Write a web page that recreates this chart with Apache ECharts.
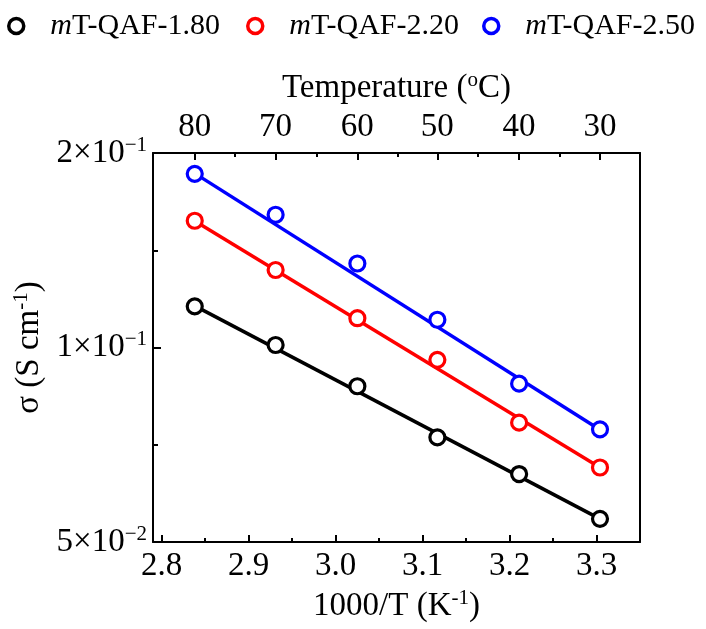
<!DOCTYPE html>
<html>
<head>
<meta charset="utf-8">
<script src="https://cdn.jsdelivr.net/npm/echarts@6/dist/echarts.min.js"></script>
<style>
html, body { margin: 0; padding: 0; background: #fff; }
#chart { width: 706px; height: 629px; }
</style>
</head>
<body>
<div id="chart"></div>
<script>
// 1000/T of the six measurements, 80 -> 30 oC
var invT = [2.838, 2.931, 3.025, 3.117, 3.211, 3.304];
var tempLabels = ['80', '70', '60', '50', '40', '30'];

var names = ['mT-QAF-1.80', 'mT-QAF-2.20', 'mT-QAF-2.50'];
var colors = ['#000000', '#ff0000', '#0000ff'];

// conductivity (S cm-1)
var sig180 = [0.1158, 0.1009, 0.0871, 0.0726, 0.0637, 0.0543];
var sig220 = [0.1571, 0.1318, 0.1110, 0.0957, 0.0765, 0.0652];
var sig250 = [0.1857, 0.1605, 0.1349, 0.1104, 0.0879, 0.0747];

// linear fits, value at first and last point
var fit180 = [0.1160, 0.0543];
var fit220 = [0.1570, 0.0652];
var fit250 = [0.1860, 0.0746];

// tick labels / positions
var xTicks = [2.8, 2.9, 3.0, 3.1, 3.2, 3.3];
var xMinorTicks = [2.85, 2.95, 3.05, 3.15, 3.25, 3.35];
var yTicks = [0.05, 0.1, 0.2];
var yTickText = ['{m|5×10}{s|−2}', '{m|1×10}{s|−1}', '{m|2×10}{s|−1}'];
var yMinorTicks = [0.0707, 0.1414];

var font = 'Liberation Serif';
var sigs = [sig180, sig220, sig250];
var fits = [fit180, fit220, fit250];

var tempMinor = [];
for (var i = 1; i < invT.length; i++) tempMinor.push((invT[i] + invT[i - 1]) / 2);

function nearest(arr, v, logScale) {
    var best = 0, d = Infinity;
    for (var i = 0; i < arr.length; i++) {
        var dd = logScale ? Math.abs(Math.log(arr[i] / v)) : Math.abs(arr[i] - v);
        if (dd < d) { d = dd; best = i; }
    }
    return best;
}

var blackLine = { show: true, lineStyle: { color: '#000', width: 2 } };
var noLine = { show: false };
var richSup = {
    m: { fontFamily: font, fontSize: 33, color: '#000', lineHeight: 37 },
    s: { fontFamily: font, fontSize: 21, color: '#000', verticalAlign: 'top', lineHeight: 21 }
};

function xAx(pos, extra) {
    return Object.assign({
        type: 'value', position: pos, min: 2.79, max: 3.35,
        splitLine: { show: false },
        axisLine: noLine,
        axisTick: { show: false },
        axisLabel: { show: false }
    }, extra);
}
function yAx(pos, extra) {
    return Object.assign({
        type: 'log', logBase: 10, position: pos, min: 0.05, max: 0.2,
        splitLine: { show: false },
        axisLine: noLine,
        axisTick: { show: false },
        axisLabel: { show: false }
    }, extra);
}

var series = [];
for (var k = 0; k < 3; k++) {
    series.push({
        name: 'fit ' + names[k], type: 'line', z: 2,
        data: [[invT[0], fits[k][0]], [invT[invT.length - 1], fits[k][1]]],
        symbol: 'none', silent: true,
        lineStyle: { color: colors[k], width: 3.5 }
    });
}
for (var k = 0; k < 3; k++) {
    series.push({
        name: names[k], type: 'scatter', z: 3,
        data: invT.map(function (x, i) { return [x, sigs[k][i]]; }),
        symbol: 'circle', symbolSize: 15,
        itemStyle: { color: '#fff', borderColor: colors[k], borderWidth: 3.2, opacity: 1 }
    });
}

// one legend per sample so each entry sits where the reference has it
var legendLeft = [2, 241, 477];
var legends = names.map(function (n, k) {
    return {
        data: [n], left: legendLeft[k], top: 6, itemWidth: 36, itemHeight: 15,
        icon: 'circle',
        itemStyle: { borderWidth: 3.5 },
        formatter: function (s) { return '{i|m}{n|' + s.slice(1) + '}'; },
        textStyle: {
            rich: {
                i: { fontFamily: font, fontStyle: 'italic', fontSize: 30, color: '#000', padding: [0, 0, 0, 11] },
                n: { fontFamily: font, fontSize: 30, color: '#000' }
            }
        }
    };
});

var chart = echarts.init(document.getElementById('chart'), null, { renderer: 'canvas' });
chart.setOption({
    backgroundColor: '#fff',
    animation: false,
    grid: { left: 153, right: 66, top: 153, bottom: 87, containLabel: false, outerBoundsMode: 'none' },
    legend: legends,
    xAxis: [
        xAx('bottom', {
            axisLine: blackLine,
            axisTick: { show: true, inside: true, length: 7, customValues: xTicks, lineStyle: { color: '#000', width: 2 } },
            axisLabel: {
                show: true, customValues: xTicks, margin: 8, color: '#000', fontFamily: font, fontSize: 33,
                formatter: function (v) { return v.toFixed(1); }
            },
            name: '{a|1000/T (K}{s|-1}{a|)}', nameLocation: 'middle', nameGap: 44,
            nameTextStyle: { rich: { a: richSup.m, s: richSup.s } }
        }),
        xAx('bottom', {
            axisTick: { show: true, inside: true, length: 4, customValues: xMinorTicks, lineStyle: { color: '#000', width: 2 } }
        }),
        xAx('top', {
            axisLine: blackLine,
            axisTick: { show: true, inside: true, length: 7, customValues: invT, lineStyle: { color: '#000', width: 2 } },
            axisLabel: {
                show: true, customValues: invT, margin: 9, color: '#000', fontFamily: font, fontSize: 33,
                formatter: function (v) { return tempLabels[nearest(invT, v, false)]; }
            },
            name: '{a|Temperature (}{s|o}{a|C)}', nameLocation: 'middle', nameGap: 46,
            nameTextStyle: { rich: { a: richSup.m, s: richSup.s } }
        }),
        xAx('top', {
            axisTick: { show: true, inside: true, length: 4, customValues: tempMinor, lineStyle: { color: '#000', width: 2 } }
        })
    ],
    yAxis: [
        yAx('left', {
            axisLine: blackLine,
            axisTick: { show: true, inside: true, length: 8, customValues: yTicks, lineStyle: { color: '#000', width: 2 } },
            axisLabel: {
                show: true, customValues: yTicks, margin: 6,
                formatter: function (v) { return yTickText[nearest(yTicks, v, true)]; },
                rich: richSup
            },
            name: '{a|σ (S cm}{s|-1}{a|)}', nameLocation: 'middle', nameGap: 99, nameRotate: 90,
            nameTextStyle: { rich: { a: richSup.m, s: richSup.s } }
        }),
        yAx('left', {
            axisTick: { show: true, inside: true, length: 5, customValues: yMinorTicks, lineStyle: { color: '#000', width: 2 } }
        }),
        yAx('right', { axisLine: blackLine })
    ],
    series: series
});
</script>
</body>
</html>
